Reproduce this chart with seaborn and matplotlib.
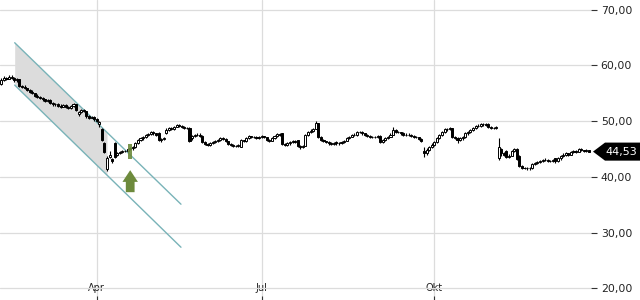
import numpy as np
import pandas as pd
import matplotlib
matplotlib.use("Agg")
import matplotlib.pyplot as plt
import matplotlib.transforms as mtransforms
from matplotlib.patches import Polygon, FancyArrow
import seaborn as sns

# ---- data ----
opens = [56.6, 57.4, 57.8, 57.6, 58.0, 57.7, 57.3, 57.5, 56.3, 56.2,
 55.9, 55.6, 55.3, 55.0, 54.6, 54.3, 54.1, 53.9, 53.6, 53.8,
 53.3, 53.0, 53.1, 52.8, 52.6, 52.9, 52.5, 52.3, 52.7, 53.0,
 51.2, 51.6, 52.0, 51.8, 51.0, 50.6, 50.8, 50.3, 49.4, 48.6,
 46.1, 41.4, 43.6, 43.2, 46.1, 43.9, 44.3, 44.5, 44.6, 44.7,
 45.0, 45.1, 45.3, 46.1, 46.6, 46.9, 47.2, 47.5, 47.7, 48.0,
 47.8, 47.9, 46.6, 46.8, 47.9, 48.4, 48.8, 48.6, 49.0, 49.3,
 49.1, 49.0, 48.8, 48.8, 46.9, 47.3, 47.5, 47.6, 47.4, 46.3,
 45.9, 45.8, 46.1, 46.3, 46.5, 46.6, 47.0, 46.8, 46.4, 45.9,
 45.7, 45.6, 45.5, 45.4, 46.6, 46.4, 47.0, 47.3, 47.1, 47.2,
 47.0, 47.1, 47.3, 47.1, 46.7, 46.5, 46.9, 47.4, 47.7, 47.8,
 45.9, 45.8, 46.0, 46.3, 46.5, 46.6, 45.6, 45.3, 45.6, 47.5,
 48.0, 48.3, 48.6, 49.6, 47.2, 46.6, 46.4, 46.2, 46.0, 45.9,
 46.3, 46.0, 46.1, 46.3, 46.5, 47.0, 47.2, 47.5, 47.5, 48.0,
 48.1, 47.8, 47.5, 47.4, 47.2, 47.1, 47.2, 47.4, 46.3, 46.6,
 47.0, 47.2, 47.6, 48.4, 48.1, 48.0, 47.8, 47.6, 47.5, 47.6,
 47.3, 47.2, 47.1, 46.8, 44.6, 44.2, 44.9, 45.4, 45.8, 46.3,
 47.0, 47.5, 48.0, 48.5, 48.6, 48.7, 47.2, 47.0, 46.6, 46.9,
 47.1, 47.8, 48.1, 48.4, 48.8, 49.1, 49.2, 49.4, 49.5, 49.5,
 49.0, 48.8, 48.7, 43.4, 45.0, 44.3, 44.6, 43.6, 43.8, 44.6,
 45.0, 43.8, 42.0, 41.6, 41.6, 41.5, 41.5, 42.3, 42.5, 42.6,
 42.9, 43.0, 43.1, 42.9, 42.8, 43.3, 42.8, 43.3, 43.8, 44.0,
 44.2, 44.0, 44.4, 44.6, 44.5, 45.0, 44.8, 44.7, 44.8]

closes = [57.4, 57.8, 57.6, 58.0, 57.7, 57.3, 57.5, 56.3, 56.2, 55.9,
 55.6, 55.3, 55.0, 54.6, 54.3, 54.1, 53.9, 53.6, 53.8, 53.3,
 53.0, 53.1, 52.8, 52.6, 52.9, 52.5, 52.3, 52.7, 53.0, 52.0,
 51.6, 52.0, 51.8, 51.0, 50.6, 50.8, 50.3, 50.1, 49.8, 46.6,
 44.5, 43.4, 44.0, 42.8, 43.6, 44.3, 44.5, 44.6, 44.7, 45.0,
 45.1, 45.3, 46.1, 46.6, 46.9, 47.2, 47.5, 47.7, 48.0, 47.8,
 47.6, 46.6, 46.8, 47.0, 48.4, 48.8, 48.6, 49.0, 49.3, 49.1,
 49.0, 48.8, 48.7, 46.5, 47.3, 47.5, 47.6, 47.4, 46.3, 45.9,
 45.8, 46.1, 46.3, 46.5, 46.6, 47.0, 46.8, 46.4, 45.9, 45.7,
 45.6, 45.5, 45.7, 46.6, 46.4, 47.0, 47.3, 47.1, 47.2, 47.0,
 47.1, 47.3, 47.1, 46.7, 46.5, 46.9, 47.4, 47.7, 47.5, 45.9,
 45.8, 46.0, 46.3, 46.5, 46.2, 45.6, 45.3, 45.5, 47.5, 48.0,
 48.3, 48.6, 49.6, 47.2, 46.6, 46.4, 46.2, 46.0, 45.9, 46.1,
 46.0, 46.1, 46.3, 46.5, 47.0, 47.2, 47.5, 47.6, 48.0, 48.1,
 47.8, 47.5, 47.4, 47.2, 47.1, 47.2, 47.4, 46.3, 46.6, 47.0,
 47.2, 47.6, 48.4, 48.1, 48.0, 47.8, 47.6, 47.5, 47.6, 47.3,
 47.2, 47.1, 46.8, 46.5, 44.2, 44.9, 45.4, 45.8, 46.3, 47.0,
 47.5, 48.0, 48.5, 48.6, 48.7, 47.2, 47.0, 46.6, 46.9, 47.1,
 47.8, 48.1, 48.4, 48.8, 49.1, 49.2, 49.4, 49.5, 49.3, 49.0,
 48.8, 48.7, 49.0, 45.4, 44.3, 44.0, 43.6, 43.8, 44.6, 45.0,
 43.2, 42.0, 41.6, 41.6, 41.5, 41.6, 42.3, 42.5, 42.6, 42.9,
 43.0, 43.1, 42.9, 42.8, 43.0, 42.8, 43.3, 43.8, 44.0, 44.2,
 44.0, 44.4, 44.6, 44.5, 45.0, 44.8, 44.7, 44.8, 44.53]

highs = [57.7, 58.1, 58.0, 58.3, 58.2, 57.9, 57.7, 57.6, 56.5, 56.4,
 56.0, 55.8, 55.5, 55.1, 54.8, 54.5, 54.3, 54.0, 54.0, 53.9,
 53.5, 53.3, 53.2, 53.0, 53.1, 53.0, 52.7, 52.9, 53.2, 53.1,
 51.8, 52.2, 52.1, 51.9, 51.1, 51.0, 50.9, 50.5, 50.0, 48.8,
 46.3, 43.7, 44.6, 43.4, 46.3, 44.5, 44.7, 44.8, 44.9, 45.2,
 45.3, 45.5, 46.3, 46.8, 47.1, 47.4, 47.7, 47.9, 48.3, 48.2,
 47.9, 48.0, 47.0, 47.2, 48.8, 49.0, 48.9, 49.2, 49.5, 49.4,
 49.3, 49.1, 48.9, 49.0, 47.5, 47.7, 47.8, 47.8, 47.5, 46.4,
 46.1, 46.3, 46.5, 46.7, 46.8, 47.2, 47.1, 46.9, 46.5, 46.0,
 45.9, 45.8, 45.9, 46.8, 46.7, 47.2, 47.5, 47.4, 47.4, 47.3,
 47.3, 47.5, 47.4, 47.2, 46.8, 47.1, 47.6, 47.9, 47.9, 47.9,
 46.1, 46.2, 46.5, 46.7, 46.6, 46.7, 45.7, 45.8, 47.7, 48.2,
 48.5, 48.8, 50.1, 49.7, 47.3, 46.8, 46.5, 46.4, 46.2, 46.3,
 46.5, 46.3, 46.5, 46.7, 47.2, 47.4, 47.7, 47.8, 48.2, 48.3,
 48.2, 47.9, 47.7, 47.5, 47.4, 47.4, 47.6, 47.5, 46.8, 47.2,
 47.4, 47.8, 48.9, 48.5, 48.3, 48.1, 48.0, 47.8, 47.8, 47.7,
 47.5, 47.3, 47.2, 46.9, 45.3, 45.1, 45.6, 46.0, 46.5, 47.2,
 47.7, 48.2, 48.7, 48.8, 48.9, 48.8, 47.3, 47.1, 47.1, 47.3,
 48.0, 48.3, 48.6, 49.0, 49.3, 49.5, 49.7, 49.7, 49.6, 49.6,
 49.1, 49.0, 49.2, 46.9, 45.2, 44.5, 44.8, 44.1, 44.9, 45.2,
 45.2, 44.0, 42.1, 41.8, 41.7, 41.8, 42.5, 42.7, 42.8, 43.1,
 43.2, 43.3, 43.2, 43.0, 43.2, 43.4, 43.5, 44.0, 44.2, 44.4,
 44.3, 44.6, 44.8, 44.8, 45.2, 45.1, 44.9, 45.0, 44.9]

lows = [56.4, 57.2, 57.4, 57.5, 57.5, 57.1, 57.1, 56.1, 56.0, 55.7,
 55.4, 55.1, 54.8, 54.4, 54.1, 53.9, 53.7, 53.4, 53.5, 53.1,
 52.8, 52.8, 52.6, 52.4, 52.5, 52.3, 52.1, 52.2, 52.6, 51.8,
 51.0, 51.5, 51.6, 50.6, 50.4, 50.5, 50.1, 49.9, 49.0, 46.4,
 44.2, 41.0, 43.3, 42.4, 43.4, 43.7, 44.1, 44.3, 44.4, 44.5,
 44.8, 44.9, 45.2, 45.9, 46.4, 46.7, 47.0, 47.3, 47.5, 47.6,
 47.4, 46.4, 46.2, 46.6, 47.7, 48.2, 48.4, 48.4, 48.9, 48.9,
 48.8, 48.6, 48.5, 46.3, 46.7, 47.1, 47.3, 47.2, 46.1, 45.7,
 45.6, 45.6, 45.9, 46.1, 46.3, 46.4, 46.6, 46.2, 45.7, 45.5,
 45.4, 45.3, 45.3, 45.3, 46.2, 46.3, 46.8, 46.9, 46.9, 46.8,
 46.8, 46.9, 46.9, 46.5, 46.3, 46.4, 46.8, 47.2, 47.3, 45.7,
 45.6, 45.6, 45.8, 46.1, 46.0, 45.4, 45.0, 45.1, 45.5, 47.3,
 47.9, 48.1, 48.5, 47.0, 46.4, 46.2, 46.0, 45.8, 45.7, 45.7,
 45.8, 45.8, 45.9, 46.1, 46.4, 46.8, 47.1, 47.3, 47.4, 47.8,
 47.6, 47.3, 47.2, 47.0, 46.9, 46.9, 47.0, 46.1, 46.1, 46.5,
 46.8, 47.1, 47.5, 47.9, 47.8, 47.6, 47.4, 47.3, 47.3, 47.1,
 47.0, 46.9, 46.6, 46.3, 43.5, 44.0, 44.7, 45.2, 45.6, 46.1,
 46.8, 47.3, 47.8, 48.3, 48.4, 47.0, 46.8, 46.0, 46.4, 46.7,
 47.0, 47.6, 47.9, 48.2, 48.6, 48.9, 49.0, 49.2, 49.1, 48.8,
 48.6, 48.5, 48.5, 43.0, 43.8, 43.7, 43.3, 43.4, 43.7, 44.4,
 43.0, 41.8, 41.4, 41.4, 41.3, 41.3, 41.4, 42.1, 42.3, 42.4,
 42.7, 42.8, 42.7, 42.6, 42.6, 42.4, 42.7, 43.1, 43.6, 43.8,
 43.8, 43.9, 44.2, 44.3, 44.4, 44.6, 44.5, 44.5, 44.4]

month_labels = ["Apr", "Jul", "Okt"]
month_index = [37, 101, 168]
y_ticks = [20, 30, 40, 50, 60, 70]

# trend channel: start and end of each boundary line
channel_x = [5.18, 69.7]
channel_upper = [64.07, 35.09]
channel_lower = [56.47, 27.37]
shade_end = 41.0

signal_index = 50
signal_low, signal_high = 43.2, 45.9
arrow_base, arrow_tip = 37.25, 41.2

# ---- styling ----
sns.set_theme(style="white")
plt.rcParams['font.family'] = ['DejaVu Sans']

GRID = "#dcdcdc"
CHAN = "#79b3b8"
SHADE = "#dcdcdc"
GREEN = "#6d8a3c"

df = pd.DataFrame({"i": np.arange(len(closes)), "o": opens, "c": closes,
                   "h": highs, "l": lows})
chan = pd.DataFrame({"x": channel_x, "upper": channel_upper, "lower": channel_lower})

fig = plt.figure(figsize=(6.4, 3.0), dpi=100)
ax = fig.add_axes([0, 0, 591 / 640, 1])
ax.set_xlim(-0.52, 228.8)
ax.set_ylim(17.9, 71.74)

for s in ax.spines.values():
    s.set_visible(False)
ax.set_axisbelow(True)
ax.grid(True, color=GRID, lw=0.9)

# channel shading and lines
sx = np.array([channel_x[0], shade_end])
su = np.interp(sx, chan.x, chan.upper)
sl = np.interp(sx, chan.x, chan.lower)
ax.fill_between(sx, sl, su, color=SHADE, lw=0, zorder=1)
sns.lineplot(data=chan, x="x", y="upper", ax=ax, color=CHAN, lw=1.0, zorder=2)
sns.lineplot(data=chan, x="x", y="lower", ax=ax, color=CHAN, lw=1.0, zorder=2)

# candles
up = df[df.c >= df.o]
dn = df[df.c < df.o]
ax.vlines(df.i, df.l, df.h, color="black", lw=0.8, zorder=3)
ax.bar(up.i, (up.c - up.o).clip(lower=0.05), bottom=up.o, width=0.8,
       facecolor="white", edgecolor="black", lw=0.7, zorder=4)
ax.bar(dn.i, dn.c - dn.o, bottom=dn.o, width=0.8,
       facecolor="black", edgecolor="black", lw=0.7, zorder=4)

# breakout marker and arrow
ax.bar([signal_index], [signal_high - signal_low], bottom=signal_low, width=1.5,
       color=GREEN, alpha=0.9, lw=0, zorder=5)
ax.add_patch(FancyArrow(signal_index, arrow_base, 0, arrow_tip - arrow_base,
                        width=3.4, head_width=6.0, head_length=2.1,
                        length_includes_head=True, color=GREEN, lw=0, zorder=6))

# axes ticks
ax.yaxis.tick_right()
ax.set_yticks(y_ticks)
ax.set_yticklabels([f"{v:.2f}".replace(".", ",") for v in y_ticks])
ax.tick_params(axis="y", right=True, length=4, width=0.8, color="#333333",
               pad=3, labelsize=7.8, labelcolor="#222222")
ax.set_xticks(month_index)
ax.set_xticklabels(month_labels)
ax.tick_params(axis="x", bottom=True, direction="in", length=3, width=0.8,
               color="#333333", pad=-12, labelsize=7, labelcolor="#222222")
ax.set_xlabel("")
ax.set_ylabel("")

# last price label
last = closes[-1]
tr = mtransforms.blended_transform_factory(fig.transFigure, ax.transData)
hh = 1.62
poly = Polygon([(593 / 640, last), (605 / 640, last + hh), (1.0, last + hh),
                (1.0, last - hh), (605 / 640, last - hh)], closed=True,
               transform=tr, facecolor="black", edgecolor="none", clip_on=False,
               zorder=10)
fig.patches.append(poly)
fig.text(621 / 640, last, f"{last:.2f}".replace(".", ","), transform=tr,
         color="white", fontsize=8, ha="center", va="center", zorder=11)

fig.savefig("out.png", dpi=100)
